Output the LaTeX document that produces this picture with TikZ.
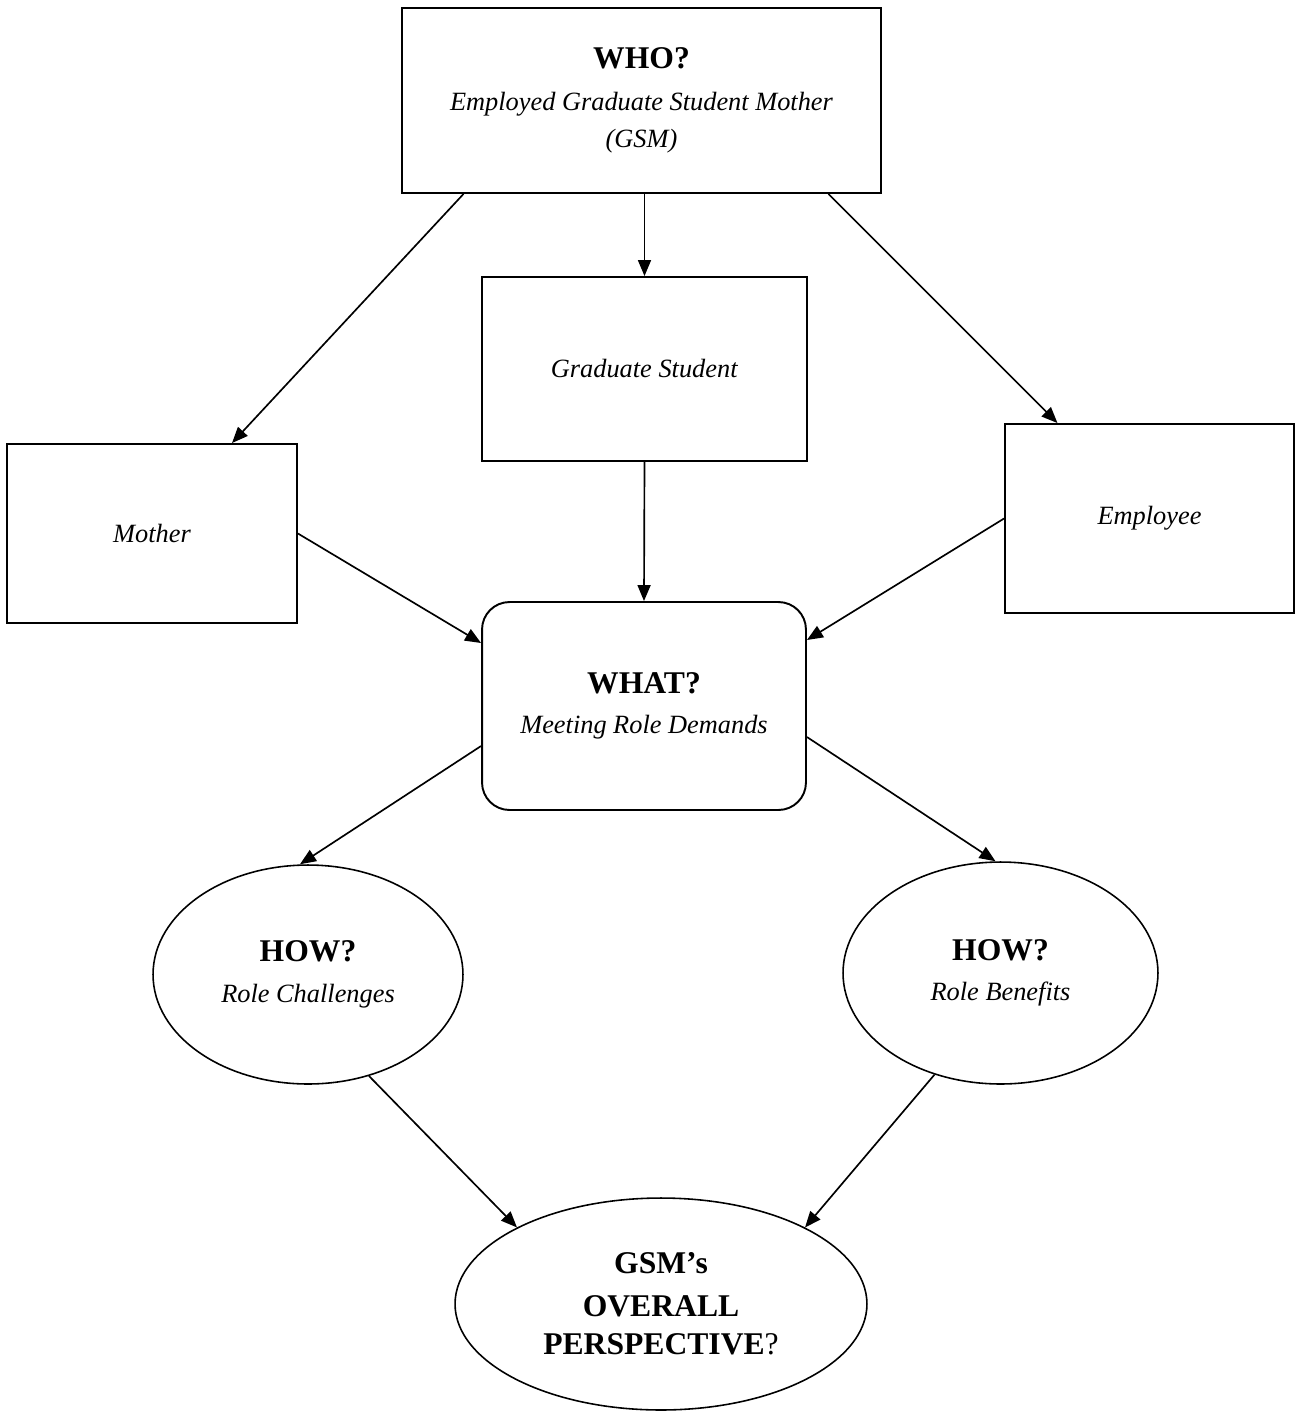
\documentclass[tikz,border=0pt]{standalone}
\usepackage{fontspec}
\setmainfont{Liberation Serif}
\usepackage{tikz}
\usetikzlibrary{shapes.geometric, arrows.meta, calc}
\tikzstyle{box} = [rectangle, line width=1.1pt, text centered, align=center, draw=black, fill=white]
\tikzstyle{rbox} = [rectangle, rounded corners=0.55cm, line width=1.1pt, text centered, align=center, draw=black, fill=white]
\tikzstyle{oval} = [ellipse, inner sep=0pt, line width=0.9pt, text centered, align=center, draw=black, fill=white]
\tikzstyle{arrow} = [line width=0.95pt, -{Triangle[length=0.32cm, width=0.26cm]}]

\begin{document}
\begin{tikzpicture}[x=0.02cm, y=-0.02cm, font=\fontsize{15}{21}\selectfont]
\useasboundingbox (0,0) rectangle (1299,1411);

\node (who) [box, minimum width=9.58cm, minimum height=3.7cm] at (641.5,100.5)
  {{\fontsize{18}{21}\selectfont\bfseries WHO?}\\[3pt]\textit{Employed Graduate Student Mother}\\\textit{(GSM)}};

\node (grad) [box, minimum width=6.5cm, minimum height=3.68cm] at (644.5,369) {\textit{Graduate Student}};
\node (mother) [box, minimum width=5.8cm, minimum height=3.58cm] at (152,533.5) {\textit{Mother}};
\node (employee) [box, minimum width=5.78cm, minimum height=3.78cm] at (1149.5,518.5) {\textit{Employee}};

\node (what) [rbox, minimum width=6.48cm, minimum height=4.16cm] at (644,706)
  {{\fontsize{18}{21}\selectfont\bfseries WHAT?}\\[2pt]\textit{Meeting Role Demands}};

\node (howc) [oval, minimum width=6.2cm, minimum height=4.38cm] at (308,974.5)
  {{\fontsize{18}{21}\selectfont\bfseries HOW?}\\[2pt]\textit{Role Challenges}};
\node (howb) [oval, minimum width=6.3cm, minimum height=4.44cm] at (1000.5,973)
  {{\fontsize{18}{21}\selectfont\bfseries HOW?}\\[2pt]\textit{Role Benefits}};

\node (gsm) [oval, minimum width=8.24cm, minimum height=4.24cm, font=\fontsize{18}{21}\selectfont] at (661,1304)
  {\textbf{GSM’s}\\[3pt]\textbf{OVERALL}\\[1pt]\textbf{PERSPECTIVE}?};

\draw [arrow] ($(who.south)+(-178,0)$) -- ($(mother.north)+(80,0)$);
\draw [arrow] (grad.north |- who.south) -- (grad.north);
\draw [arrow] ($(who.south)+(187,0)$) -- ($(employee.north)+(-92,0)$);

\draw [arrow] (grad.south) -- (what.north);
\draw [arrow] (mother.east) -- ($(what.west)+(0,-63)$);
\draw [arrow] (employee.west) -- ($(what.east)+(0,-66)$);

\draw [arrow] ($(what.west)+(0,40)$) -- ($(howc.north)+(-8,0)$);
\draw [arrow] ($(what.east)+(0,31)$) -- ($(howb.north)+(-5,0)$);

\draw [arrow] (howc.-59) -- (gsm.152);
\draw [arrow] (howb.-123) -- (gsm.28);

\end{tikzpicture}
\end{document}
